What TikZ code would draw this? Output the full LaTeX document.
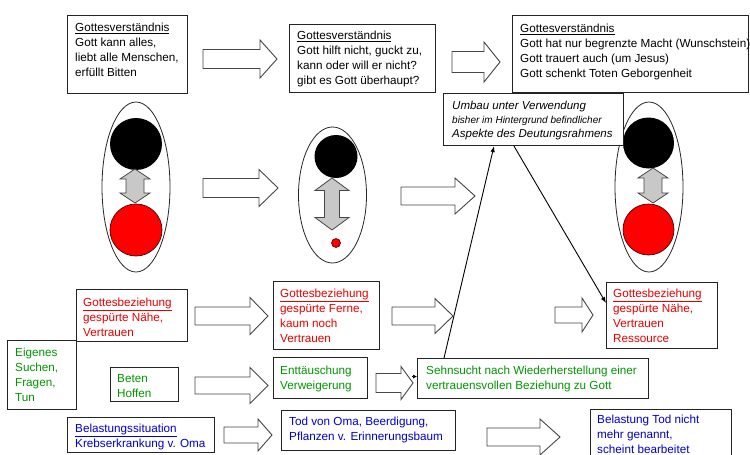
\documentclass[tikz,border=0pt]{standalone}
\usepackage{fontspec}
\setmainfont{Liberation Sans}
\usetikzlibrary{calc,arrows.meta}

\definecolor{txtred}{RGB}{230,0,0}
\definecolor{txtgreen}{RGB}{0,150,0}
\definecolor{txtblue}{RGB}{0,0,205}
\definecolor{framecol}{RGB}{35,35,35}
\definecolor{outlcol}{RGB}{70,70,70}
\definecolor{twowayfill}{RGB}{200,200,200}
\definecolor{discred}{RGB}{255,0,0}

\newcommand\bodyfs{\fontsize{11.7}{15}\selectfont}
\newcommand\umbfs{\fontsize{11.5}{14}\selectfont\itshape}
\newcommand\umbsmall{\fontsize{10}{14}\selectfont\itshape}
\newcommand\topstrut{\rule{0pt}{11pt}}

% hollow block arrow: x-start, x-tip, y-centre, shaft half-height, head half-height, head length
\newcommand\blockarrow[6]{%
  \draw[blockarr] (#1,#3-#4) -- (#2-#6,#3-#4) -- (#2-#6,#3-#5) -- (#2,#3)
    -- (#2-#6,#3+#5) -- (#2-#6,#3+#4) -- (#1,#3+#4) -- cycle;}

% grey two-way arrow: x, y-top, y-bottom, shaft half-width, head half-width, head length
\newcommand\twowayarrow[6]{%
  \draw[twoway] (#1-#4,#2+#6) -- (#1-#5,#2+#6) -- (#1,#2) -- (#1+#5,#2+#6) -- (#1+#4,#2+#6)
    -- (#1+#4,#3-#6) -- (#1+#5,#3-#6) -- (#1,#3) -- (#1-#5,#3-#6) -- (#1-#4,#3-#6) -- cycle;}

\tikzset{
  bx/.style={draw=framecol, line width=1.1pt, fill=white, anchor=north west, inner sep=0pt},
  tx/.style={anchor=north west, inner sep=0pt, align=left, font=\bodyfs},
  blockarr/.style={draw=outlcol, line width=0.9pt, fill=white, line join=miter},
  twoway/.style={draw=outlcol, line width=0.8pt, fill=twowayfill},
  oval/.style={draw=black!85, line width=0.8pt},
  conn/.style={draw=black, line width=0.9pt, -{Latex[length=6pt,width=4.5pt]}},
}

\begin{document}
\begin{tikzpicture}[x=1pt,y=-1pt]
\fill[white] (0,0) rectangle (750,455);
\useasboundingbox (0,0) rectangle (750,455);
\clip (0,0) rectangle (750,455);

% ---- ovals with the two discs ----
\draw[oval] (136,187) ellipse [x radius=34pt, y radius=85pt];
\fill[black] (136,144) circle [radius=26pt];
\draw[fill=discred, draw=black!70!red, line width=0.7pt] (136,230) circle [radius=26pt];
\twowayarrow{135}{169}{203}{9}{15}{10}

\draw[oval] (332.5,195) ellipse [x radius=34pt, y radius=68pt];
\fill[black] (336,156.5) circle [radius=21.5pt];
\twowayarrow{332}{178}{230}{7.5}{17}{12.5}
\draw[fill=discred, draw=black!70!red, line width=0.6pt] (336,243) circle [radius=4.5pt];

\draw[oval] (649,187) ellipse [x radius=34pt, y radius=85pt];
\fill[black] (648.5,143) circle [radius=25.5pt];
\draw[fill=discred, draw=black!70!red, line width=0.7pt] (648.5,229.5) circle [radius=25.5pt];
\twowayarrow{653}{168}{203}{9}{15}{10}

% ---- boxes ----
\node[bx, minimum width=120pt, minimum height=78pt] (gvA) at (67,15) {};
\node[bx, minimum width=146pt, minimum height=68pt] (gvB) at (289,24) {};
\node[bx, minimum width=236pt, minimum height=77pt] (gvC) at (512,15) {};
\node[bx, minimum width=180pt, minimum height=52pt] (umb) at (443,93) {};

\node[bx, minimum width=111pt, minimum height=52pt] (rA) at (76,289) {};
\node[bx, minimum width=106pt, minimum height=68pt] (rB0) at (273,281) {};
\node[bx, minimum width=111pt, minimum height=66pt] (rB) at (606,282) {};

\node[bx, minimum width=69pt, minimum height=69pt] (gA) at (7,340) {};
\node[bx, minimum width=68pt, minimum height=34pt] (gB) at (110,367) {};
\node[bx, minimum width=94pt, minimum height=41pt] (gC) at (273,357) {};
\node[bx, minimum width=231pt, minimum height=40pt] (sehn) at (417,358) {};

\node[bx, minimum width=147pt, minimum height=35pt] (bA) at (67,417) {};
\node[bx, minimum width=174pt, minimum height=40pt] (bB) at (281,410) {};
\node[bx, minimum width=141pt, minimum height=52pt] (bC) at (590,409) {};

% ---- texts ----
\node[tx] (gvAt) at (75,20) {\topstrut\underline{Gottesverständnis}\\Gott kann alles,\\liebt alle Menschen,\\erfüllt Bitten};
\node[tx] (gvBt) at (297,28) {\topstrut\underline{Gottesverständnis}\\Gott hilft nicht, guckt zu,\\kann oder will er nicht?\\gibt es Gott überhaupt?};
\node[tx] (gvCt) at (520,21) {\topstrut\underline{Gottesverständnis}\\Gott hat nur begrenzte Macht (Wunschstein)\\Gott trauert auch (um Jesus)\\Gott schenkt Toten Geborgenheit};
\node[tx, font=\umbfs] (umbt) at (452,98) {\topstrut Umbau unter Verwendung\\{\umbsmall bisher im Hintergrund befindlicher}\\Aspekte des Deutungsrahmens};

\node[tx, text=txtred] (rAt) at (83,295) {\topstrut\underline{Gottesbeziehung}\\gespürte Nähe,\\Vertrauen};
\node[tx, text=txtred] (rB0t) at (280,286) {\topstrut\underline{Gottesbeziehung}\\gespürte Ferne,\\kaum noch\\Vertrauen};
\node[tx, text=txtred] (rBt) at (613,286) {\topstrut\underline{Gottesbeziehung}\\gespürte Nähe,\\Vertrauen\\Ressource};

\node[tx, text=txtgreen] (gAt) at (15,345) {\topstrut Eigenes\\Suchen,\\Fragen,\\Tun};
\node[tx, text=txtgreen] (gBt) at (117,371) {\topstrut Beten\\Hoffen};
\node[tx, text=txtgreen] (gCt) at (280,363) {\topstrut Enttäuschung\\Verweigerung};
\node[tx, text=txtgreen] (sehnt) at (426,363) {\topstrut Sehnsucht nach Wiederherstellung einer\\vertrauensvollen Beziehung zu Gott};

\node[tx, text=txtblue] (bAt) at (75,421) {\topstrut\underline{Belastungssituation}\\Krebserkrankung v. Oma};
\node[tx, text=txtblue] (bBt) at (289,414) {\topstrut Tod von Oma, Beerdigung,\\Pflanzen v. Erinnerungsbaum};
\node[tx, text=txtblue] (bCt) at (597,412) {\topstrut Belastung Tod nicht\\mehr genannt,\\scheint bearbeitet};

% ---- hollow block arrows ----
\blockarrow{203}{277}{59}{9.5}{19}{17}
\blockarrow{452}{500}{62}{10.5}{20}{16}
\blockarrow{203}{278}{188}{9.5}{18.5}{19}
\blockarrow{401}{475}{196}{9}{18}{20}
\blockarrow{195}{268}{316}{9}{18.5}{18}
\blockarrow{392}{453}{316}{9}{17.5}{18}
\blockarrow{555}{593}{315}{8}{17}{11}
\blockarrow{195}{268}{385.5}{8.5}{18}{18}
\blockarrow{376}{413}{383}{9.5}{16.5}{12}
\blockarrow{224}{272}{435}{8}{16}{14}
\blockarrow{487}{560}{437}{9}{18}{20}

% ---- connectors ----
\draw[conn] ($(sehn.north west)+(27,0)$) -- ($(umb.south west)+(51,0)$);
\draw[conn] ($(umb.south west)+(71,0)$) -- ($(rB.north west)+(0,21)$);
\coordinate (mk) at ($(sehn.west)+(-5,-2)$);
\draw[-{Latex[length=4pt,width=4pt]}, line width=0.6pt] (mk) -- ($(sehn.west)+(0,-2)$);
\end{tikzpicture}
\end{document}
